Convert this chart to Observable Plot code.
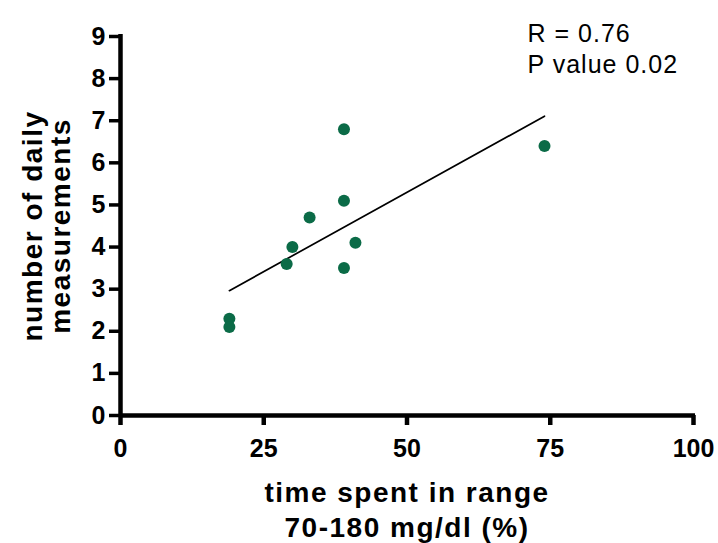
<!DOCTYPE html>
<html>
<head>
<meta charset="utf-8">
<script src="https://cdn.jsdelivr.net/npm/d3@7"></script>
<script src="https://cdn.jsdelivr.net/npm/@observablehq/plot@0.6"></script>
<style>
  html, body { margin: 0; padding: 0; background: #fff; }
  #chart svg { display: block; }
</style>
</head>
<body>
<div id="chart"></div>
<script>
// time spent in range 70-180 mg/dl (%)
const timeInRange = [19, 19, 29, 30, 33, 39, 39, 39, 41, 74];
// number of daily measurements
const dailyMeasurements = [2.3, 2.1, 3.6, 4.0, 4.7, 6.8, 5.1, 3.5, 4.1, 6.4];
const xTicks = [0, 25, 50, 75, 100];
const yTicks = [0, 1, 2, 3, 4, 5, 6, 7, 8, 9];
const xTitle = "time spent in range\n70-180 mg/dl (%)";
const yTitle = "number of daily\nmeasurements";
const statsText = "R = 0.76\nP value 0.02";

const data = timeInRange.map((t, i) => ({x: t, y: dailyMeasurements[i]}));

const font = "'Liberation Sans', Arial, Helvetica, sans-serif";

const chart = Plot.plot({
  width: 718,
  height: 543,
  marginLeft: 120,
  marginRight: 25,
  marginTop: 36,
  marginBottom: 128,
  style: {fontFamily: font, background: "#fff", color: "#000"},
  x: {domain: [0, 100]},
  y: {domain: [0, 9]},
  marks: [
    Plot.axisY({ticks: yTicks, tickSize: 11, tickPadding: 4, strokeWidth: 3.5, fontSize: 25, fontWeight: "bold", label: null, tickFormat: d => String(d)}),
    Plot.axisX({ticks: xTicks, tickSize: 10, tickPadding: 14, strokeWidth: 4.5, fontSize: 25, fontWeight: "bold", label: null, tickFormat: d => String(d)}),
    Plot.ruleX([0], {strokeWidth: 4.5, insetTop: -2}),
    Plot.ruleY([0], {strokeWidth: 4.5, insetRight: -2}),
    Plot.linearRegressionY(data, {x: "x", y: "y", ci: 0, stroke: "#000", strokeWidth: 1.7}),
    Plot.dot(data, {x: "x", y: "y", r: 6, fill: "#0b6b47", stroke: null}),
    Plot.text([statsText], {frameAnchor: "top-left", dx: 407, dy: -16.75, textAnchor: "start", lineAnchor: "top", lineHeight: 1.24, fontSize: 25, fill: "#000"}),
    Plot.text([xTitle], {frameAnchor: "bottom", dy: 62, textAnchor: "middle", lineAnchor: "top", lineHeight: 1.25, fontSize: 28, fontWeight: "bold", fill: "#000"}),
    Plot.text([yTitle], {frameAnchor: "left", dx: -98, rotate: -90, textAnchor: "middle", lineAnchor: "top", lineHeight: 1.0, fontSize: 28, fontWeight: "bold", fill: "#000"})
  ]
});

// letter spacing on titles and stats text
const textGroups = d3.select(chart).selectAll("g[aria-label='text']");
textGroups.selectAll("text").style("letter-spacing", "1.5px");
textGroups.filter((d, i) => i === 0).selectAll("text").style("letter-spacing", "1px");

document.getElementById("chart").appendChild(chart);
</script>
</body>
</html>
